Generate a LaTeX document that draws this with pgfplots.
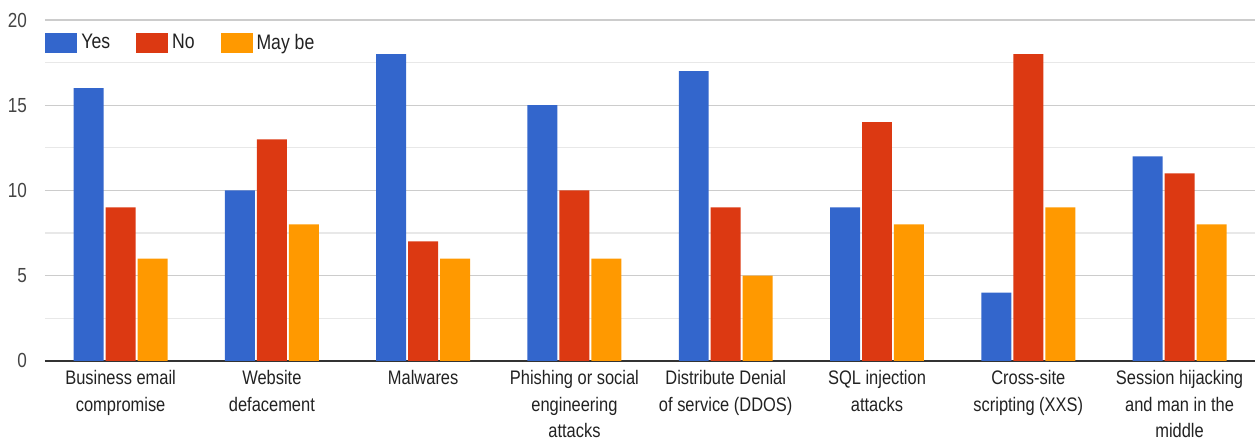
\documentclass[border=0pt]{standalone}
\usepackage{fontspec}
\setmainfont{Liberation Sans}[FakeStretch=0.84]
\usepackage{pgfplots}
\pgfplotsset{compat=1.18}
\definecolor{cYes}{HTML}{3366CC}
\definecolor{cNo}{HTML}{DC3912}
\definecolor{cMay}{HTML}{FF9900}
\definecolor{txt}{HTML}{222222}
\definecolor{tck}{HTML}{444444}
\begin{document}
\begin{tikzpicture}
\begin{axis}[
  name=ax,
  scale only axis,
  width=605.5pt, height=170.5pt,
  ybar=1pt, bar width=15pt,
  xmin=-0.5, xmax=7.5,
  ymin=0, ymax=20,
  xtick={0,...,7},
  xticklabels={{Business email\\compromise},{Website\\defacement},{Malwares},{Phishing or social\\engineering\\attacks},{Distribute Denial\\of service (DDOS)},{SQL injection\\attacks},{Cross-site\\scripting (XXS)},{Session hijacking\\and man in the\\middle}},
  ytick={0,5,10,15,20},
  minor y tick num=1,
  ymajorgrids, yminorgrids,
  major grid style={draw=black!20, line width=0.6pt},
  minor grid style={draw=black!9, line width=0.6pt},
  major tick length=0pt, minor tick length=0pt,
  axis x line*=bottom, axis y line*=left,
  y axis line style={draw=none},
  x axis line style={draw=black!80, line width=0.8pt, -},
  xticklabel style={font=\fontsize{9.8pt}{13.5pt}\selectfont, text=txt, align=center, anchor=north, yshift=-1pt},
  yticklabel style={font=\fontsize{10.2pt}{12pt}\selectfont, text=tck, anchor=east, xshift=-5.5pt},
  /pgf/number format/assume math mode=true,
  legend columns=3,
  legend style={at={(rel axis cs:0,0.9326)}, anchor=west, draw=none, fill=white,
    font=\fontsize{10.5pt}{12pt}\selectfont, text=txt, inner xsep=0pt,
    /tikz/every even column/.append style={column sep=11pt},
    /tikz/every odd column/.append style={column sep=0pt}},
  legend image code/.code={\fill[#1, draw=none] (0pt,-5pt) rectangle (16pt,5pt);},
  clip=false,
]
\addplot[fill=cYes, draw=none] coordinates {(0,16) (1,10) (2,18) (3,15) (4,17) (5,9) (6,4) (7,12)};
\addplot[fill=cNo, draw=none] coordinates {(0,9) (1,13) (2,7) (3,10) (4,9) (5,14) (6,18) (7,11)};
\addplot[fill=cMay, draw=none] coordinates {(0,6) (1,8) (2,6) (3,6) (4,5) (5,8) (6,9) (7,8)};
\legend{Yes,No,May be}
\end{axis}
\path[use as bounding box] ([xshift=-22.5pt,yshift=-40pt]ax.south west) rectangle ([yshift=10pt]ax.north east);
\end{tikzpicture}
\end{document}
